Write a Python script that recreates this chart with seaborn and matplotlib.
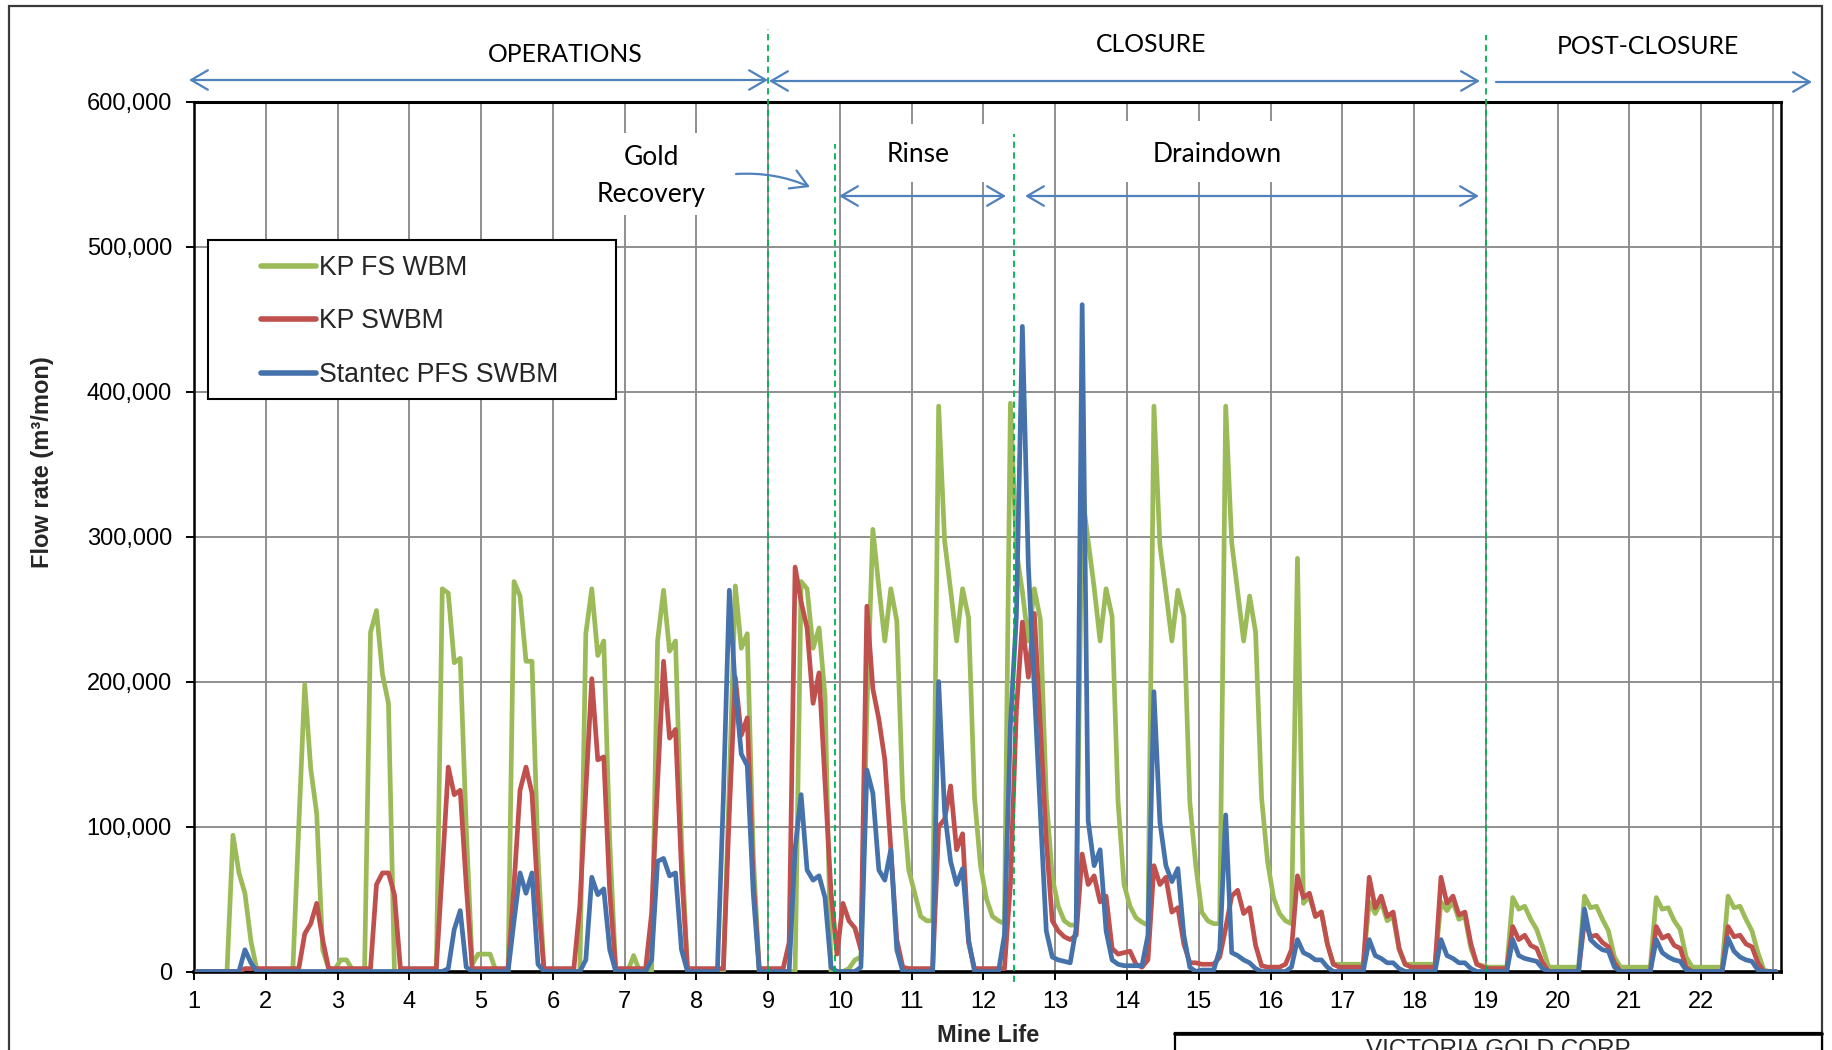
# Flow rate comparison - monthly water balance results over mine life
import numpy as np
import pandas as pd
import matplotlib
matplotlib.use("Agg")
import matplotlib.pyplot as plt
import seaborn as sns
from matplotlib.patches import Rectangle
from matplotlib.lines import Line2D

# monthly flow in thousand m3/mon, 12 values per mine year (year 23: first month only)
kp_fs_wbm = [
    0, 0, 0, 0, 0, 0, 94, 68, 54, 21, 1, 0,            # 1
    0, 0, 0, 0, 0, 100, 198, 140, 109, 15, 2, 1,       # 2
    8, 8, 1, 0, 0, 234, 249, 205, 185, 0, 0, 0,        # 3
    0, 0, 0, 0, 0, 264, 261, 213, 216, 100, 5, 12,     # 4
    12, 12, 0, 0, 0, 269, 259, 214, 214, 80, 0, 0,     # 5
    0, 0, 0, 0, 0, 233, 264, 218, 228, 90, 0, 0,       # 6
    0, 11, 0, 0, 0, 228, 263, 221, 228, 90, 0, 0,      # 7
    0, 0, 0, 0, 0, 130, 266, 223, 233, 80, 0, 0,       # 8
    0, 0, 0, 0, 0, 269, 264, 223, 237, 190, 0, 0,      # 9
    0, 2, 8, 10, 180, 305, 265, 228, 264, 242, 120, 70,   # 10
    54, 38, 35, 35, 390, 297, 263, 228, 264, 244, 120, 73,  # 11
    50, 38, 35, 33, 392, 290, 262, 228, 264, 243, 120, 65,  # 12
    45, 35, 32, 32, 330, 297, 265, 228, 264, 245, 117, 60,  # 13
    45, 37, 34, 32, 390, 294, 262, 228, 263, 245, 117, 73,  # 14
    41, 35, 33, 33, 390, 296, 262, 228, 259, 234, 120, 76,  # 15
    51, 40, 35, 33, 285, 47, 52, 38, 41, 19, 5, 5,     # 16
    5, 5, 5, 5, 48, 40, 48, 35, 38, 15, 5, 5,          # 17
    5, 5, 5, 5, 48, 42, 48, 36, 38, 16, 5, 4,          # 18
    3, 3, 3, 3, 51, 43, 45, 36, 29, 17, 3, 3,          # 19
    3, 3, 3, 3, 52, 44, 45, 36, 28, 10, 3, 3,          # 20
    3, 3, 3, 3, 51, 43, 44, 35, 29, 10, 3, 3,          # 21
    3, 3, 3, 3, 52, 44, 45, 36, 28, 13, 1, 0,          # 22
    0,
]

kp_swbm = [
    0, 0, 0, 0, 0, 0, 0, 0, 2, 2, 2, 2,                # 1
    2, 2, 2, 2, 2, 2, 26, 33, 47, 22, 2, 2,            # 2
    2, 2, 2, 2, 2, 2, 60, 68, 68, 53, 2, 2,            # 3
    2, 2, 2, 2, 2, 70, 141, 122, 125, 60, 2, 2,        # 4
    2, 2, 2, 2, 2, 60, 125, 141, 123, 50, 2, 2,        # 5
    2, 2, 2, 2, 45, 125, 202, 146, 148, 55, 2, 2,      # 6
    2, 2, 2, 2, 40, 130, 214, 161, 167, 70, 2, 2,      # 7
    2, 2, 2, 2, 2, 110, 203, 163, 175, 63, 2, 2,       # 8
    2, 2, 2, 20, 279, 255, 237, 185, 206, 130, 55, 12,  # 9
    47, 35, 30, 15, 252, 195, 174, 146, 85, 22, 3, 2,  # 10
    2, 2, 2, 2, 100, 105, 128, 84, 95, 20, 2, 2,       # 11
    2, 2, 2, 2, 60, 180, 241, 203, 247, 170, 90, 35,   # 12
    28, 24, 22, 25, 81, 60, 66, 48, 52, 16, 12, 13,    # 13
    14, 5, 3, 8, 73, 60, 65, 41, 44, 19, 6, 6,         # 14
    5, 5, 5, 10, 30, 52, 56, 40, 44, 18, 4, 3,         # 15
    3, 3, 5, 15, 66, 51, 54, 38, 41, 19, 5, 3,         # 16
    3, 3, 3, 3, 65, 44, 52, 38, 41, 16, 5, 3,          # 17
    3, 3, 3, 3, 65, 47, 52, 39, 41, 19, 5, 3,          # 18
    2, 2, 2, 2, 31, 22, 25, 18, 16, 6, 0, 0,           # 19
    0, 0, 0, 0, 35, 24, 25, 20, 17, 6, 0, 0,           # 20
    0, 0, 0, 0, 31, 23, 25, 18, 16, 3, 0, 0,           # 21
    0, 0, 0, 0, 31, 24, 25, 19, 17, 6, 0, 0,           # 22
    0,
]

stantec_pfs_swbm = [
    0, 0, 0, 0, 0, 0, 0, 0, 15, 6, 0, 0,               # 1
    0, 0, 0, 0, 0, 0, 0, 0, 0, 0, 0, 0,                # 2
    0, 0, 0, 0, 0, 0, 0, 0, 0, 0, 0, 0,                # 3
    0, 0, 0, 0, 0, 0, 2, 29, 42, 3, 0, 0,              # 4
    0, 0, 0, 0, 0, 35, 68, 54, 68, 5, 0, 0,            # 5
    0, 0, 0, 0, 0, 8, 65, 53, 57, 15, 0, 0,            # 6
    0, 0, 0, 0, 8, 76, 78, 66, 68, 15, 0, 0,           # 7
    0, 0, 0, 0, 120, 263, 195, 150, 142, 54, 0, 0,     # 8
    0, 0, 0, 0, 85, 122, 70, 63, 66, 51, 3, 0,         # 9
    0, 0, 0, 3, 139, 123, 70, 63, 84, 15, 0, 0,        # 10
    0, 0, 0, 0, 200, 110, 76, 60, 71, 22, 0, 0,        # 11
    0, 0, 0, 25, 170, 245, 445, 280, 195, 110, 28, 10,  # 12
    8, 7, 6, 30, 460, 104, 73, 84, 28, 8, 5, 4,        # 13
    4, 4, 4, 25, 193, 103, 73, 62, 71, 25, 3, 0,       # 14
    1, 1, 1, 15, 108, 13, 11, 8, 6, 2, 0, 0,           # 15
    0, 0, 0, 3, 22, 13, 11, 8, 8, 3, 0, 0,             # 16
    0, 0, 0, 0, 22, 11, 9, 6, 6, 2, 0, 0,              # 17
    0, 0, 0, 0, 22, 11, 9, 6, 6, 2, 0, 0,              # 18
    0, 0, 0, 0, 22, 11, 9, 8, 7, 2, 0, 0,              # 19
    0, 0, 0, 0, 43, 22, 18, 15, 14, 3, 0, 0,           # 20
    0, 0, 0, 0, 22, 13, 10, 8, 7, 1, 0, 0,             # 21
    0, 0, 0, 0, 23, 14, 10, 8, 7, 1, 0, 0,             # 22
    0,
]

series_names = ["KP FS WBM", "KP SWBM", "Stantec PFS SWBM"]
series_colors = ["#9BBB59", "#C0504D", "#4672AC"]

year_ticks = list(range(1, 24))
year_labels = [str(y) for y in range(1, 23)] + [""]
flow_ticks = [0, 100000, 200000, 300000, 400000, 500000, 600000]
flow_labels = ["0", "100,000", "200,000", "300,000", "400,000", "500,000", "600,000"]

# phase boundaries (mine life)
phase_lines = [9.0, 9.93, 12.43, 19.0]

# long table for seaborn
n = len(kp_fs_wbm)
month = np.arange(n)
mine_life = 1 + (month + 0.5) / 12
df = pd.DataFrame({
    "Mine Life": np.tile(mine_life, 3),
    "flow": np.concatenate([kp_fs_wbm, kp_swbm, stantec_pfs_swbm]) * 1000.0,
    "series": np.repeat(series_names, n),
})

sns.set_theme(style="white", rc={"lines.linewidth": 3.4})
plt.rcParams["font.family"] = ["Liberation Sans", "DejaVu Sans"]

W, H = 1833, 1050
fig = plt.figure(figsize=(W / 100, H / 100), dpi=100)
ax = fig.add_axes([194.1 / W, 1 - 971.5 / H, 1587.4 / W, 869.8 / H])


def fpx(x, y):
    # full-size pixel position -> figure fraction
    return x / W, 1 - y / H


sns.lineplot(data=df, x="Mine Life", y="flow", hue="series", hue_order=series_names,
             palette=series_colors, estimator=None, legend=False, ax=ax, zorder=3,
             linewidth=3.4)
for ln in ax.lines:
    ln.set_linewidth(3.4)
    ln.set_solid_joinstyle("round")

ax.set_xlim(1, 23.12)
ax.set_ylim(0, 600000)
ax.set_xticks(year_ticks)
ax.set_xticklabels(year_labels)
ax.set_yticks(flow_ticks)
ax.set_yticklabels(flow_labels)
ax.set_xlabel("")
ax.set_ylabel("")
ax.grid(True, color="#878787", linewidth=1.3)
ax.set_axisbelow(True)
ax.tick_params(axis="both", direction="out", length=6, width=1.4, color="black",
               labelsize=17, labelcolor="black", bottom=True, left=True)
ax.tick_params(axis="y", pad=10)
ax.tick_params(axis="x", pad=8)
for side, sp in ax.spines.items():
    sp.set_color("black")
    sp.set_linewidth(1.8)
ax.spines["bottom"].set_linewidth(2.6)
ax.spines["top"].set_linewidth(2.2)

# green dashed phase boundaries
dash_top = [29, 144, 134, 35]
dash_bot = [971.5, 971.5, 982, 971.5]
for xv, yt, yb in zip(phase_lines, dash_top, dash_bot):
    ax.axvline(xv, ymin=(971.5 - yb) / 869.8, ymax=(971.5 - yt) / 869.8,
               color="#00B050", linestyle=(0, (3.5, 2.5)), linewidth=1.3,
               clip_on=False, zorder=5)

# white boxes behind the phase captions
for (x0, y0, x1, y1) in [(565, 133, 745, 215), (860, 124, 1000, 182), (1105, 121, 1305, 182)]:
    ax.add_patch(Rectangle(fpx(x0, y1), (x1 - x0) / W, (y1 - y0) / H,
                           transform=fig.transFigure, facecolor="white",
                           edgecolor="none", zorder=2, clip_on=False))

# phase arrows (figure pixels)
arrow_col = "#4F81BD"


def phase_arrow(x0, x1, y, style):
    ax.annotate("", xy=(x1, H - y), xycoords="figure pixels",
                xytext=(x0, H - y), textcoords="figure pixels",
                arrowprops=dict(arrowstyle=style + ",head_length=0.6,head_width=0.35",
                                color=arrow_col, lw=1.6, shrinkA=0, shrinkB=0,
                                mutation_scale=20),
                annotation_clip=False, zorder=6)


phase_arrow(189, 768, 80, "<->")
phase_arrow(769, 1480, 81, "<->")
phase_arrow(1496, 1812, 82, "->")
phase_arrow(839, 1006, 196, "<->")
phase_arrow(1025, 1479, 196, "<->")
ax.annotate("", xy=(810, H - 187), xycoords="figure pixels",
            xytext=(736, H - 174), textcoords="figure pixels",
            arrowprops=dict(arrowstyle="->,head_length=0.6,head_width=0.35",
                            color=arrow_col, lw=1.6, shrinkA=0, shrinkB=0,
                            mutation_scale=20, connectionstyle="arc3,rad=-0.12"),
            annotation_clip=False, zorder=6)

cap_font = dict(family=["Lato", "DejaVu Sans"], color="black",
                ha="center", va="center", zorder=7)
fig.text(*fpx(565, 54), "OPERATIONS", fontsize=17.8, **cap_font)
fig.text(*fpx(1151, 44), "CLOSURE", fontsize=17.8, **cap_font)
fig.text(*fpx(1648, 46), "POST-CLOSURE", fontsize=17.8, **cap_font)
fig.text(*fpx(651, 176), "Gold\nRecovery", fontsize=19, linespacing=1.6, **cap_font)
fig.text(*fpx(918, 155), "Rinse", fontsize=19, **cap_font)
fig.text(*fpx(1217, 154), "Draindown", fontsize=19, **cap_font)

# axis titles
fig.text(*fpx(43, 462), "Flow rate (m³/mon)", rotation=90, fontsize=17,
         fontweight="bold", ha="center", va="center")
fig.text(*fpx(988, 1036), "Mine Life", fontsize=17, fontweight="bold",
         ha="center", va="center")

# legend with a wide white box
ax.add_patch(Rectangle(fpx(208, 399), (616 - 208) / W, (399 - 240) / H,
                       transform=fig.transFigure, facecolor="white",
                       edgecolor="black", linewidth=1.5, zorder=5, clip_on=False))
handles = [Line2D([], [], color=c, linewidth=4.0) for c in series_colors]
leg = ax.legend(handles, series_names, loc="upper left",
                bbox_to_anchor=fpx(261, 255), bbox_transform=fig.transFigure,
                frameon=False, borderpad=0, borderaxespad=0, handlelength=2.08,
                handletextpad=0.1, labelspacing=1.03, fontsize=19.2)
leg.set_zorder(6)

# outer frame and title block edge
fig.add_artist(Rectangle(fpx(9, 1080), (1822 - 9) / W, (1080 - 6) / H,
                         transform=fig.transFigure, fill=False,
                         edgecolor="#3a3a3a", linewidth=1.6))
fig.add_artist(Rectangle(fpx(1175, 1080), (1822 - 1175) / W, (1080 - 1033) / H,
                         transform=fig.transFigure, facecolor="white",
                         edgecolor="black", linewidth=1.6))
fig.add_artist(Line2D([1175 / W, 1822 / W], [1 - 1034 / H] * 2,
                      transform=fig.transFigure, color="black", linewidth=2.6))
fig.text(*fpx(1500, 1039), "VICTORIA GOLD CORP.", fontsize=17.5, ha="center", va="top")

fig.savefig("out.png", dpi=100)
